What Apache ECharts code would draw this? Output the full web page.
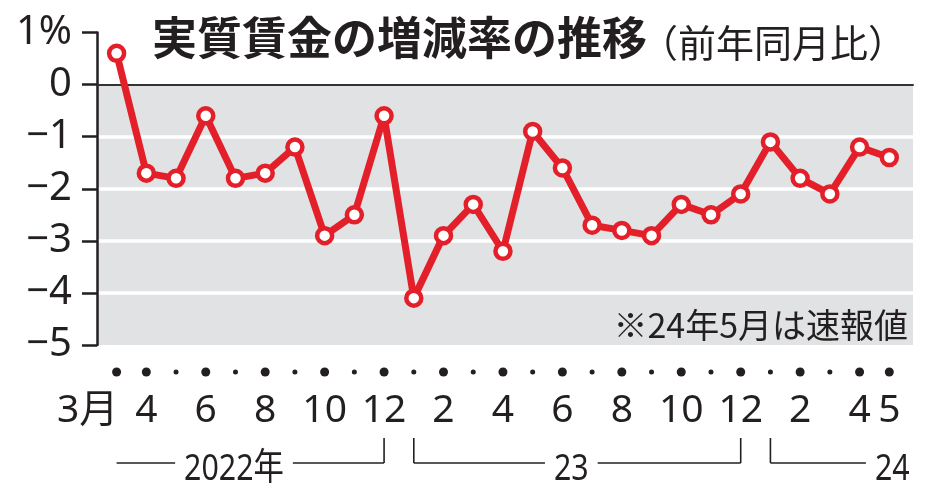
<!DOCTYPE html>
<html><head><meta charset="utf-8">
<script src="https://cdn.jsdelivr.net/npm/echarts@6/dist/echarts.min.js"></script>
<style>html,body{margin:0;padding:0;background:#fff}#c{width:934px;height:502px}</style>
</head><body><div id="c"></div>
<script>
// ---- data ----
const categories = ['2022-03','2022-04','2022-05','2022-06','2022-07','2022-08','2022-09','2022-10','2022-11','2022-12',
  '2023-01','2023-02','2023-03','2023-04','2023-05','2023-06','2023-07','2023-08','2023-09','2023-10','2023-11','2023-12',
  '2024-01','2024-02','2024-03','2024-04','2024-05'];
const values = [0.6,-1.7,-1.8,-0.6,-1.8,-1.7,-1.2,-2.9,-2.5,-0.6,
  -4.1,-2.9,-2.3,-3.2,-0.9,-1.6,-2.7,-2.8,-2.9,-2.3,-2.5,-2.1,
  -1.1,-1.8,-2.1,-1.2,-1.4];
const monthLabels = ['3月','4','','6','','8','','10','','12','','2','','4','','6','','8','','10','','12','','2','','4','5'];
const yearLabels = ['2022年','23','24'];
const yearSpans = [[0,9],[10,21],[22,26]];
const titleText = '実質賃金の増減率の推移';
const subText = '（前年同月比）';
const noteText = '※24年5月は速報値';

// ---- style ----
const RED = '#e31f29', GRAY = '#e1e2e4', INK = '#231f20';
const NUM_FONT = '"Noto Sans","Noto Sans CJK JP",sans-serif';
const CJK_FONT = '"Noto Sans CJK JP",sans-serif';
const NARROW_FONT = '"Noto Sans","Noto Sans CJK JP",sans-serif';

const chart = echarts.init(document.getElementById('c'), null, {renderer:'canvas'});
const yFmt = v => v === 1 ? '1%' : (v === 0 ? '0' : '\u2212' + Math.abs(v));

chart.setOption({
  animation: false,
  backgroundColor: '#fff',
  title: [
    {text: titleText, left: 152, top: 15, padding: 0,
     textStyle: {fontFamily: CJK_FONT, fontWeight: 'bold', fontSize: 45, color: INK}},
    {text: subText, left: 640, top: 24, padding: 0,
     textStyle: {fontFamily: CJK_FONT, fontWeight: 'normal', fontSize: 38, color: INK}}
  ],
  grid: [
    {left: 97, right: 21, top: 84.6, bottom: 157, show: true, backgroundColor: GRAY, borderWidth: 0},
    {left: 116.6, right: 44.7, top: 32.5, bottom: 157}
  ],
  xAxis: [
    {gridIndex: 0, type: 'value', min: 0, max: 1, position: 'top',
     axisLine: {show: true, lineStyle: {color: '#333', width: 2}},
     axisTick: {show: false}, axisLabel: {show: false}, splitLine: {show: false}},
    {gridIndex: 1, type: 'category', data: categories, boundaryGap: false, position: 'bottom',
     axisLine: {show: false}, axisTick: {show: false}, splitLine: {show: false},
     axisLabel: {interval: 0, margin: 27, verticalAlign: 'middle',
       formatter: (v, i) => monthLabels[i] ? '{b| }' : '{s| }',
       rich: {
         b: {width: 9, height: 9, borderRadius: 4.5, backgroundColor: INK},
         s: {width: 5, height: 5, borderRadius: 2.5, backgroundColor: INK}
       }}},
    {gridIndex: 1, type: 'category', data: categories, boundaryGap: false, position: 'bottom',
     axisLine: {show: false}, axisTick: {show: false}, splitLine: {show: false},
     axisLabel: {interval: 0, margin: 66, verticalAlign: 'middle', fontSize: 39, color: INK, fontFamily: NUM_FONT,
       formatter: (v, i) => i === 0 ? '{f|' + monthLabels[i] + '}' : monthLabels[i],
       rich: {f: {fontSize: 39, color: INK, fontFamily: NUM_FONT, padding: [0, 58, 0, 0]}}}}
  ],
  yAxis: [
    {gridIndex: 0, type: 'value', min: -5, max: 0, interval: 1,
     axisLine: {show: false}, axisTick: {show: false}, axisLabel: {show: false},
     splitLine: {show: true, showMinLine: false, showMaxLine: false, lineStyle: {color: '#fff', width: 3.5}}},
    {gridIndex: 1, type: 'value', min: -5, max: 1, interval: 1, offset: 19.6,
     axisLine: {show: true, lineStyle: {color: INK, width: 2.5}},
     axisTick: {show: true, length: 15, lineStyle: {color: INK, width: 2.5}},
     axisLabel: {margin: 25, fontSize: 40, color: INK, fontFamily: NUM_FONT, formatter: yFmt},
     splitLine: {show: false}}
  ],
  series: [{
    type: 'line', xAxisIndex: 1, yAxisIndex: 1, data: values, z: 5,
    symbol: 'circle', symbolSize: 15,
    lineStyle: {color: RED, width: 7},
    itemStyle: {color: '#fff', borderColor: RED, borderWidth: 4.5}
  }]
});

// ---- year brackets & note ----
const ctx = document.createElement('canvas').getContext('2d');
const YFS = 37, SX = 0.82;
ctx.font = YFS + 'px ' + NARROW_FONT;
const px = i => {
  const a = chart.convertToPixel({xAxisIndex: 1}, 0);
  const b = chart.convertToPixel({xAxisIndex: 1}, 1);
  return a + (b - a) * i;
};
const lineY = 463, tickTop = 438, textY = 469;
const textCenters = [px(3.95), px(15.3), px(26.1)];
const g = [];
const ls = {stroke: INK, lineWidth: 1.6};
yearSpans.forEach((sp, k) => {
  const cx = textCenters[k];
  const w = ctx.measureText(yearLabels[k]).width * SX;
  const x0 = px(sp[0]), x1 = px(sp[1]);
  g.push({type: 'text', x: cx, y: textY, scaleX: SX, originX: 0, originY: 0,
          style: {text: yearLabels[k], font: YFS + 'px ' + NARROW_FONT, fill: INK, align: 'center', verticalAlign: 'middle'}});
  g.push({type: 'line', shape: {x1: x0, y1: lineY, x2: Math.min(cx - w / 2 - 9, x1), y2: lineY}, style: ls});
  if (k > 0) g.push({type: 'line', shape: {x1: x0, y1: tickTop, x2: x0, y2: lineY}, style: ls});
  if (k < yearSpans.length - 1) {
    g.push({type: 'line', shape: {x1: cx + w / 2 + 9, y1: lineY, x2: x1, y2: lineY}, style: ls});
    g.push({type: 'line', shape: {x1: x1, y1: tickTop, x2: x1, y2: lineY}, style: ls});
  }
});
g.push({type: 'text', x: 908, y: 325, style: {text: noteText, font: '34px ' + CJK_FONT, fill: INK, align: 'right', verticalAlign: 'middle'}});
chart.setOption({graphic: g});
</script>
</body></html>
